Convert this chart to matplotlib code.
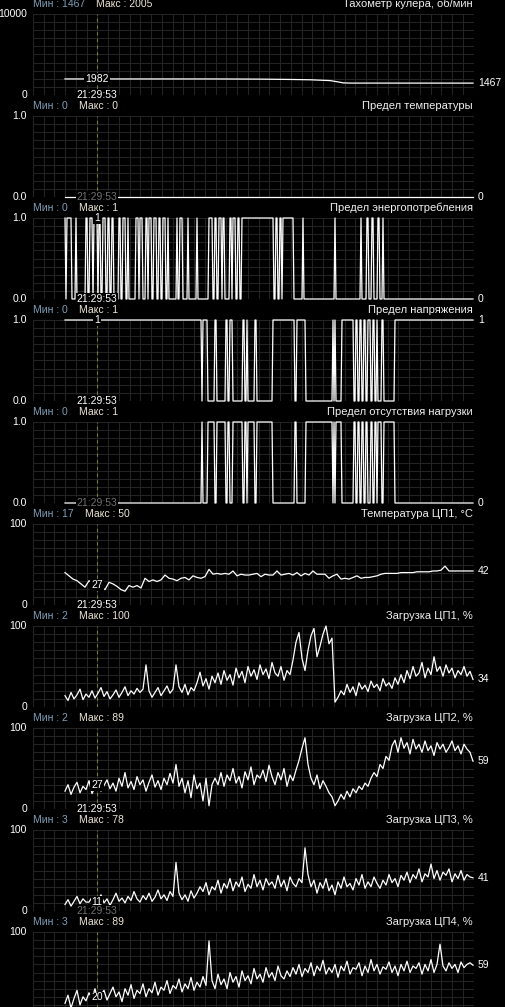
import matplotlib
matplotlib.use("Agg")
import matplotlib.pyplot as plt
import numpy as np

W, H = 506, 1007
plt.rcParams['font.family'] = ['Liberation Sans', 'DejaVu Sans']

titles = ["Тахометр кулера, об/мин", "Предел температуры", "Предел энергопотребления",
          "Предел напряжения", "Предел отсутствия нагрузки", "Температура ЦП1, °C",
          "Загрузка ЦП1, %", "Загрузка ЦП2, %", "Загрузка ЦП3, %", "Загрузка ЦП4, %"]
min_vals = ["1467", "0", "0", "0", "0", "17", "2", "2", "3", "3"]
max_vals = ["2005", "0", "1", "1", "1", "50", "100", "89", "78", "89"]
top_labels = ["10000", "1.0", "1.0", "1.0", "1.0", "100", "100", "100", "100", "100"]
bottom_labels = ["0", "0.0", "0.0", "0.0", "0.0", "0", "0", "0", "0", None]
y_max = [10000, 1, 1, 1, 1, 100, 100, 100, 100, 100]
time_label = "21:29:53"

# fan speed, breakpoints (sample px, rpm)
fan_t = [65, 210, 230, 260, 290, 310, 330, 338, 343, 350, 473]
fan_rpm = [1982, 1982, 1975, 1960, 1920, 1880, 1780, 1620, 1500, 1470, 1467]

# binary limits: start state and the sample px where state flips
temp_limit_start, temp_limit_flips = 0, []
power_start = 1
power_flips = [66, 67, 72, 76, 77, 86, 88, 90, 93, 94, 98, 99, 101, 103, 106, 108, 110, 112,
               114, 119, 121, 123, 126, 128, 129, 136, 139, 140, 143, 146, 148, 149, 152, 154,
               157, 159, 161, 163, 166, 168, 169, 177, 178, 180, 183, 188, 189, 197, 198, 209,
               213, 215, 217, 219, 222, 223, 225, 230, 232, 233, 236, 238, 240, 242,
               274, 276, 278, 280, 282, 283, 294, 303, 304, 335, 336, 361, 362, 367, 369,
               372, 374, 378, 380, 383, 384]
volt_start = 1
volt_flips = [202, 203, 208, 215, 217, 226, 228, 230, 233, 243, 245, 247, 248, 255, 257,
              273, 295, 297, 306, 333, 334, 335, 336, 342, 354, 356, 358, 360, 362, 364,
              366, 368, 371, 373, 375, 377, 378, 382, 384, 395]
noload_start = 0
noload_flips = [202, 203, 208, 215, 217, 226, 228, 230, 233, 243, 245, 247, 248, 255, 257,
                273, 295, 297, 306, 333, 334, 335, 336, 342, 354, 356, 358, 360, 362, 364,
                366, 368, 371, 373, 375, 377, 378, 382, 384, 395]

# temperature, one value every 4 px starting at px 65
cpu_temp = [40, 36, 32, 30, 26, 22, 30, 27, 25, 22, 19, 28, 26, 23, 19, 17, 24, 22, 24, 21,
            33, 29, 31, 29, 31, 37, 33, 32, 30, 33, 34, 31, 36, 34, 33, 35, 44, 38, 39, 38,
            39, 38, 42, 36, 38, 37, 37, 38, 39, 35, 38, 37, 37, 42, 37, 38, 39, 37, 40, 36,
            39, 37, 42, 38, 38, 38, 33, 36, 38, 32, 33, 32, 34, 36, 33, 34, 34, 35, 36, 38,
            39, 39, 39, 39, 40, 40, 40, 40, 41, 41, 41, 41, 42, 42, 43, 48, 42, 42, 42, 42,
            42, 42, 42]
# cpu loads, one value every 3 px starting at px 65
cpu1 = [14, 8, 18, 10, 15, 22, 9, 16, 12, 20, 11, 17, 24, 13, 19, 10, 15, 21, 12, 18, 25, 14, 20, 16, 23, 18,
        22, 52, 20,
        12, 18, 24, 14, 20, 26, 17, 22,
        52, 25,
        18, 28, 15, 24, 20, 30,
        43,
        26, 35, 22, 38, 30, 42, 28, 45, 33, 40, 27, 48, 36, 44, 30, 50, 38, 46, 34, 52, 40, 47, 35, 55, 42, 38, 50, 33, 45, 40,
        58, 80, 92, 60, 45, 70, 88, 97, 62, 75, 90, 100, 78, 85,
        6,
        12, 20, 15, 28, 18, 25, 14, 30, 22, 27, 19, 32, 24, 28, 20, 35, 26, 30, 23, 36, 28,
        40, 30, 45, 35, 50, 38, 42, 55, 36, 48, 40, 62, 44, 50, 38, 52, 42, 48, 36, 45, 40, 50, 38, 44, 34]
cpu2 = [22, 30, 18, 27, 33, 20, 28, 24, 35, 19, 27, 31, 22, 29, 36, 25,
        32, 22, 38, 28, 45, 26, 34, 24, 40, 30, 36, 22, 33, 42, 27, 35, 24, 38, 30, 44, 32,
        55,
        28, 38, 20, 35, 14, 42, 25, 32, 10, 38, 4, 30,
        38, 30, 45, 28, 42, 35, 50, 32, 40, 26, 46, 36, 52, 30, 42, 38, 48, 34, 54, 40, 30, 45, 36, 50, 28, 42, 35, 48,
        60, 75, 88, 55,
        38, 30, 42, 25, 35, 28, 20, 15,
        4,
        10, 18, 12, 22, 15, 25, 20, 28, 24, 32, 28, 38,
        45, 40, 55, 50, 65, 60, 78,
        85, 70, 88, 75, 82, 68, 86, 74, 80, 70, 84, 72, 78, 66, 82, 74, 80, 70, 76, 84, 72, 78, 68, 80, 74, 70, 59]
cpu3 = [8, 14, 6, 12, 18, 9, 15, 11, 11, 17, 8, 13, 20, 10, 15, 7, 14, 22, 12, 16, 10, 18, 13, 24, 15, 11, 19,
        14, 22, 12, 17, 26, 15, 20, 13, 24, 18,
        60,
        22, 14, 20, 12, 25, 16, 22, 30,
        24, 35, 20, 30, 26, 38, 22, 34, 28, 40, 25, 36, 30, 42, 24, 33, 28, 45, 30, 38, 26, 40, 32, 36, 28, 44,
        30, 38, 25, 42, 34, 30, 40, 35,
        78,
        45, 30, 38, 22, 35, 28, 40, 25, 32, 20, 36, 28, 42, 30, 34, 26, 40, 32, 45, 28, 36, 30, 42, 34, 28, 38,
        32, 45, 35, 40, 30, 44,
        38, 48, 35, 45, 40, 52, 36, 46, 42, 58, 40, 50, 38, 48, 44, 52, 36, 46, 40, 50, 38, 45, 42, 41]
cpu4 = [12, 22, 6, 18, 28, 10, 20, 15, 25, 18, 30, 14, 22, 28, 16, 24, 32, 20, 26, 14, 30, 22, 35, 18, 28, 24,
        36, 20, 30, 25, 38, 22, 32, 28, 40, 24, 34, 30, 42, 26, 36, 30, 44, 28, 38, 32, 45, 34,
        89,
        40, 30, 48, 35, 42, 30, 50, 38, 45, 32, 52, 40, 46, 36, 55, 42, 48, 38, 56, 44, 50, 40, 58, 46, 42, 52, 45, 56,
        48, 60, 45, 55, 50, 62, 46, 58, 52, 65, 48, 56, 50, 60, 44, 58, 52, 64, 48, 56, 54, 62, 46, 58, 50, 66,
        52, 60, 48, 57, 54, 63, 50, 58, 46, 60, 52, 64, 50, 58, 55, 62, 48, 60, 52, 66, 50, 60,
        85,
        58, 52, 62, 55, 60, 50, 63, 56, 60, 62, 59]

right_vals = ["1467", "0", "0", "1", "0", "42", "34", "59", "41", "59"]
cursor_vals = ["1982", "0", "1", "1", "0", "27", None, "27", "11", "20"]
time_colors = ["white", "#707070", "white", "white", "#707070", "white", None, "white", "#707070", None]


def expand_flips(start, flips):
    px = np.arange(65, 474)
    vals = np.zeros(len(px))
    state = start
    k = 0
    for i, p in enumerate(px):
        while k < len(flips) and flips[k] <= p:
            state = 1 - state
            k += 1
        vals[i] = state
    return px, vals


def sampled(values, step):
    return 65 + step * np.arange(len(values)), np.array(values, dtype=float)


series = [
    (np.array(fan_t), np.array(fan_rpm, dtype=float)),
    expand_flips(temp_limit_start, temp_limit_flips),
    expand_flips(power_start, power_flips),
    expand_flips(volt_start, volt_flips),
    expand_flips(noload_start, noload_flips),
    sampled(cpu_temp, 4), sampled(cpu1, 3), sampled(cpu2, 3), sampled(cpu3, 3), sampled(cpu4, 3),
]

fig = plt.figure(figsize=(W / 100, H / 100), dpi=100, facecolor="black")

X0, X1 = 33, 474
CURSOR = 97
grid_x = X0 + 10.75 * np.arange(42)
FS = 7.5


def ftext(x, y, s, size=FS, **kw):
    return fig.text(x / W, 1 - y / H, s, fontsize=size, va="center", **kw)


for k in range(10):
    top = 14 + 102 * k
    bottom = 95 + 102 * k
    ax = fig.add_axes([X0 / W, 1 - bottom / H, (X1 - X0) / W, (bottom - top) / H])
    ax.set_facecolor("black")
    ax.set_xlim(X0, X1)
    ax.set_ylim(0, y_max[k])
    ax.set_xticks(grid_x)
    ax.set_yticks(np.linspace(0, y_max[k], 11))
    ax.grid(True, color="#232323", lw=0.8)
    ax.tick_params(length=0, labelbottom=False, labelleft=False)
    for s in ax.spines.values():
        s.set_visible(False)
    ax.axvline(CURSOR, color="#7a7a40", lw=0.8, ls=(0, (3, 3)), zorder=2)

    x, y = series[k]
    ax.plot(x, y, color="white", lw=0.9, clip_on=False, zorder=3)

    # header
    hy = top - 10
    t_min = ftext(X0, hy, "Мин : " + min_vals[k], color="#7f9fb8", ha="left")
    ax.annotate("Макс : " + max_vals[k], xy=(1, 0.5), xycoords=t_min, xytext=(8, 0),
                textcoords="offset points", fontsize=FS, color="#ece6d6", va="center")
    ftext(X1 - 1, hy, titles[k], size=8, color="#f0f0f0", ha="right")

    # axis labels
    ftext(27, top, top_labels[k], color="white", ha="right")
    if bottom_labels[k] is not None:
        ftext(27, bottom, bottom_labels[k], color="white", ha="right")

    # last value on the right
    ax.annotate(right_vals[k], xy=(x[-1], y[-1]), xytext=(3.5, 0), textcoords="offset points",
                fontsize=FS, color="white", va="center", ha="left", annotation_clip=False)

    # time label at cursor
    if time_colors[k] is not None:
        ftext(CURSOR, bottom, time_label, color=time_colors[k], ha="center", zorder=5,
              bbox=dict(facecolor="black", edgecolor="none", pad=0.6))

    # value at cursor
    if cursor_vals[k] is not None:
        cy = np.interp(CURSOR, x, y)
        ax.text(CURSOR, cy, cursor_vals[k], fontsize=FS, color="white", ha="center",
                va="center", zorder=6, clip_on=False,
                bbox=dict(facecolor="black", edgecolor="none", pad=0.6))

fig.savefig("out.png", dpi=100, facecolor="black")
